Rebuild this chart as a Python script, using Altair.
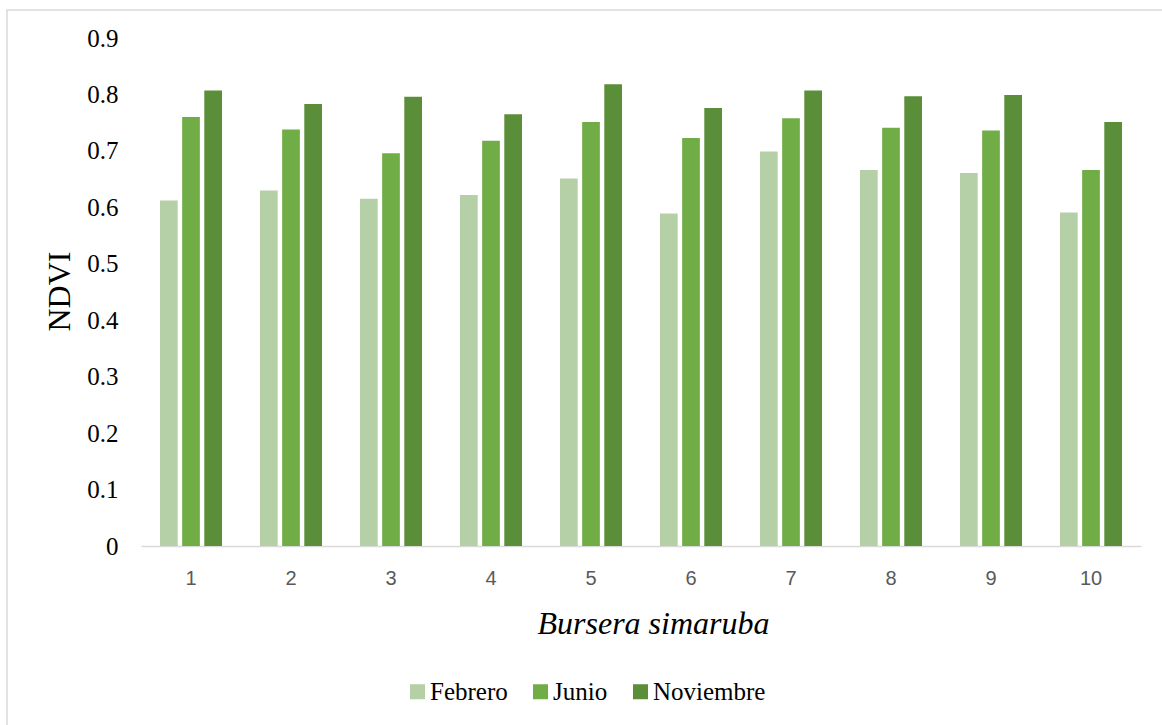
import altair as alt
import pandas as pd

arboles = ["1", "2", "3", "4", "5", "6", "7", "8", "9", "10"]
meses = ["Febrero", "Junio", "Noviembre"]
febrero = [0.612, 0.630, 0.615, 0.622, 0.651, 0.589, 0.699, 0.666, 0.661, 0.591]
junio = [0.760, 0.738, 0.696, 0.718, 0.751, 0.723, 0.758, 0.741, 0.736, 0.666]
noviembre = [0.807, 0.783, 0.796, 0.765, 0.818, 0.776, 0.807, 0.797, 0.799, 0.751]
colores = ["#B5CFA6", "#70AD47", "#5B8E39"]
y_ticks = [0, 0.1, 0.2, 0.3, 0.4, 0.5, 0.6, 0.7, 0.8, 0.9]

rows = []
for serie, vals in zip(meses, [febrero, junio, noviembre]):
    for a, v in zip(arboles, vals):
        rows.append({"arbol": a, "mes": serie, "ndvi": v})
df = pd.DataFrame(rows)

serif = "'Times New Roman', 'Liberation Serif', serif"

bars = alt.Chart(df).mark_bar().encode(
    x=alt.X("arbol:N", sort=arboles,
            scale=alt.Scale(paddingInner=0.38, paddingOuter=0.19),
            axis=alt.Axis(title="Bursera simaruba", labelAngle=0, ticks=False,
                          domainColor="#D9D9D9", domainWidth=1.5,
                          labelFont="Liberation Sans", labelFontSize=20,
                          labelColor="#595959", labelPadding=22,
                          titleFont=serif, titleFontSize=32, titleFontStyle="italic",
                          titleFontWeight="normal", titleColor="#000000",
                          titleBaseline="middle", titleY=77, titleX=512)),
    xOffset=alt.XOffset("mes:N", sort=meses, scale=alt.Scale(paddingInner=0.2)),
    y=alt.Y("ndvi:Q", scale=alt.Scale(domain=[0, 0.9], nice=False),
            axis=alt.Axis(title="NDVI", values=y_ticks, grid=False, domain=False,
                          ticks=False, format=".1~f", labelFont=serif, labelFontSize=25,
                          labelColor="#000000", labelPadding=23,
                          titleFont=serif, titleFontSize=32, titleFontWeight="normal",
                          titleColor="#000000", titleAngle=270,
                          titleAlign="center", titleBaseline="middle",
                          titleX=-82, titleY=253)),
    color=alt.Color("mes:N", sort=meses,
                    scale=alt.Scale(domain=meses, range=colores),
                    legend=alt.Legend(title=None, orient="none", direction="horizontal",
                                      legendX=264, legendY=641,
                                      symbolType="square", symbolSize=225,
                                      symbolStrokeWidth=0, labelFont=serif,
                                      labelFontSize=25, labelColor="#000000",
                                      labelOffset=0, columnPadding=20)),
)

border = alt.Chart(alt.Data(values=[{"a": 1}])).mark_rect(
    fill="transparent", stroke="#D9D9D9", strokeWidth=1.5
).encode(
    x=alt.value(-134), x2=alt.value(1200),
    y=alt.value(-28), y2=alt.value(800),
)

chart = alt.layer(border, bars).properties(
    width=1000, height=508,
    autosize=alt.AutoSizeParams(type="none"),
    padding={"left": 141, "top": 38, "right": 21, "bottom": 179},
    background="white",
).configure_view(stroke=None)

chart.save("out.html", embed_options={"renderer": "svg", "actions": False})
